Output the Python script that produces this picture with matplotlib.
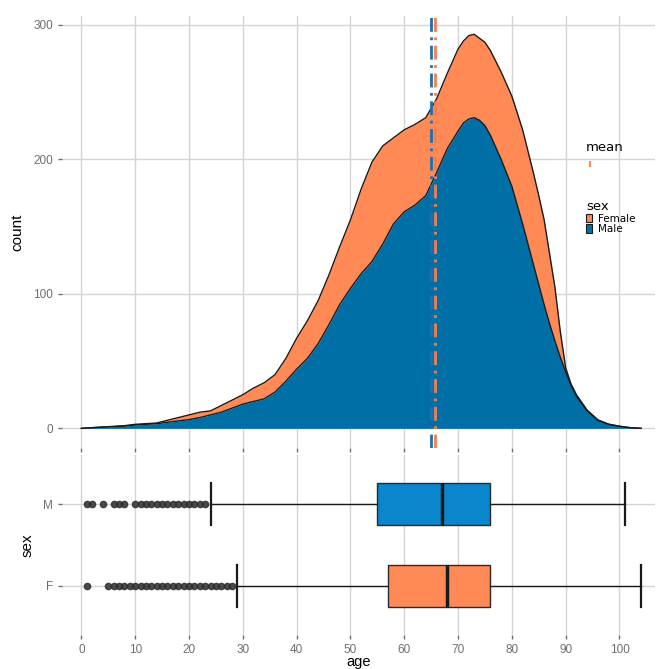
import numpy as np
import matplotlib.pyplot as plt
from matplotlib.patches import Patch
from matplotlib.lines import Line2D

# data
ages = [0, 2, 4, 6, 8, 10, 12, 14, 16, 18, 20, 22, 24, 26, 28, 30, 32, 34, 36, 38,
        40, 42, 44, 46, 48, 50, 52, 54, 56, 58, 60, 62, 64, 66, 68, 70, 71, 72, 73, 74, 75, 76, 78,
        80, 82, 84, 85, 86, 87, 88, 89, 90, 91, 92, 94, 96, 98, 100, 102, 104]
male = [0, 0.5, 1, 1.3, 1.7, 2.5, 3, 3.5, 4.5, 5.5, 6.5, 8, 10, 12, 15, 18, 20, 22, 27, 35,
        44, 52, 63, 77, 92, 104, 115, 124, 137, 152, 161, 166, 173, 190, 208, 221, 227, 230, 231, 229, 225, 218, 200,
        180, 152, 122, 107, 92, 78, 65, 53, 42, 32, 24, 13, 6, 3, 1.5, 0.5, 0]
female = [0, 0, 0, 0.2, 0.3, 0.5, 0.5, 0.5, 1.5, 2.5, 3.5, 4, 3, 5, 6, 7, 10, 12, 13, 17,
          23, 28, 32, 37, 43, 51, 63, 74, 73, 64, 61, 60, 58, 55, 56, 61, 61, 62, 62, 61, 62, 63, 65,
          67, 70, 68, 66, 63, 52, 40, 19, 3, 1, 1, 0.5, 0.3, 0.1, 0.1, 0, 0]
mean_male = 64.9
mean_female = 65.7

sexes = ["M", "F"]
box_med = [67, 68]
box_q1 = [55, 57]
box_q3 = [76, 76]
whis_lo = [24, 29]
whis_hi = [101, 104]
fliers_m = [1, 2, 4, 6, 7, 8] + list(range(10, 24))
fliers_f = [1] + list(range(5, 29))

orange = "#FF8A55"
blue_dens = "#006FA5"
blue_box = "#0A86CC"
grid_c = "#D4D4D4"
tick_c = "#6E6E6E"

plt.rcParams["font.family"] = ["Liberation Sans", "DejaVu Sans"]

fig = plt.figure(figsize=(6.59, 6.69), dpi=100)
ax1 = fig.add_axes([62 / 659, 1 - 448 / 669, 593 / 659, 432 / 669])
ax2 = fig.add_axes([62 / 659, 1 - 635 / 669, 593 / 659, 180 / 669])

for ax in (ax1, ax2):
    for s in ax.spines.values():
        s.set_visible(False)
    ax.set_axisbelow(True)
    ax.grid(True, color=grid_c, linewidth=1)
    ax.set_xlim(-3.6, 106.6)
    ax.set_xticks(range(0, 101, 10))
    ax.tick_params(colors=tick_c, length=3, width=1, labelsize=8.5)

# stacked densities
a = np.array(ages)
m = np.array(male)
f = np.array(female)
ax1.fill_between(a, 0, m, color=blue_dens, linewidth=0)
ax1.fill_between(a, m, m + f, color=orange, linewidth=0)
ax1.plot(a, m, color="#1A1A1A", linewidth=1, solid_joinstyle="round")
ax1.plot(a, m + f, color="#1A1A1A", linewidth=1, solid_joinstyle="round")
ax1.axvline(mean_male, color="#1F6FB0", linewidth=2, dashes=(5, 2, 1, 2))
ax1.axvline(mean_female, color="#F08050", linewidth=2, dashes=(5, 2, 1, 2))
ax1.set_ylim(-14.6, 306.6)
ax1.set_yticks([0, 100, 200, 300])
ax1.tick_params(axis="x", labelbottom=False)
ax1.set_ylabel("count", fontsize=11, labelpad=6)

# boxplots
stats = []
for i, fl in enumerate([fliers_m, fliers_f]):
    stats.append(dict(med=box_med[i], q1=box_q1[i], q3=box_q3[i],
                      whislo=whis_lo[i], whishi=whis_hi[i], fliers=fl))
bp = ax2.bxp(stats, positions=[2, 1], widths=0.51, capwidths=0.51, vert=False,
             patch_artist=True, manage_ticks=False,
             boxprops=dict(edgecolor="#2A2A2A", linewidth=1),
             medianprops=dict(color="#1A1A1A", linewidth=2.5),
             whiskerprops=dict(color="#1A1A1A", linewidth=1),
             capprops=dict(color="#1A1A1A", linewidth=1.6),
             flierprops=dict(marker="o", markersize=4.5, markerfacecolor="#2E2E2E",
                             markeredgecolor="#2E2E2E", alpha=0.85))
bp["boxes"][0].set_facecolor(blue_box)
bp["boxes"][1].set_facecolor(orange)
ax2.set_ylim(0.4, 2.6)
ax2.set_yticks([2, 1])
ax2.set_yticklabels(sexes)
ax2.set_ylabel("sex", fontsize=11, labelpad=6)
ax2.set_xlabel("age", fontsize=10.5, labelpad=-1)

# legends
h_mean = [Line2D([], [], color=orange, marker="|", linestyle="none", markersize=4, markeredgewidth=1.5)]
leg1 = ax1.legend(h_mean, [""], title="mean", loc="upper left", frameon=False,
                  bbox_to_anchor=(581 / 659, 1 - 136 / 669), bbox_transform=fig.transFigure,
                  handlelength=0.8, borderpad=0, handletextpad=0,
                  prop={"family": "DejaVu Sans", "size": 7.5},
                  title_fontproperties={"family": "DejaVu Sans", "size": 9.5})
leg1._legend_box.align = "left"
ax1.add_artist(leg1)
h_sex = [Patch(facecolor=orange, edgecolor="#1A1A1A", linewidth=0.8),
         Patch(facecolor=blue_dens, edgecolor="#1A1A1A", linewidth=0.8)]
leg2 = ax1.legend(h_sex, ["Female", "Male"], title="sex", loc="upper left", frameon=False,
                  bbox_to_anchor=(581 / 659, 1 - 195 / 669), bbox_transform=fig.transFigure,
                  handlelength=0.6, handleheight=0.9, labelspacing=0.05, borderpad=0,
                  handletextpad=0.5,
                  prop={"family": "DejaVu Sans", "size": 7.5},
                  title_fontproperties={"family": "DejaVu Sans", "size": 9.5})
leg2._legend_box.align = "left"

fig.savefig("out.png", dpi=100)
